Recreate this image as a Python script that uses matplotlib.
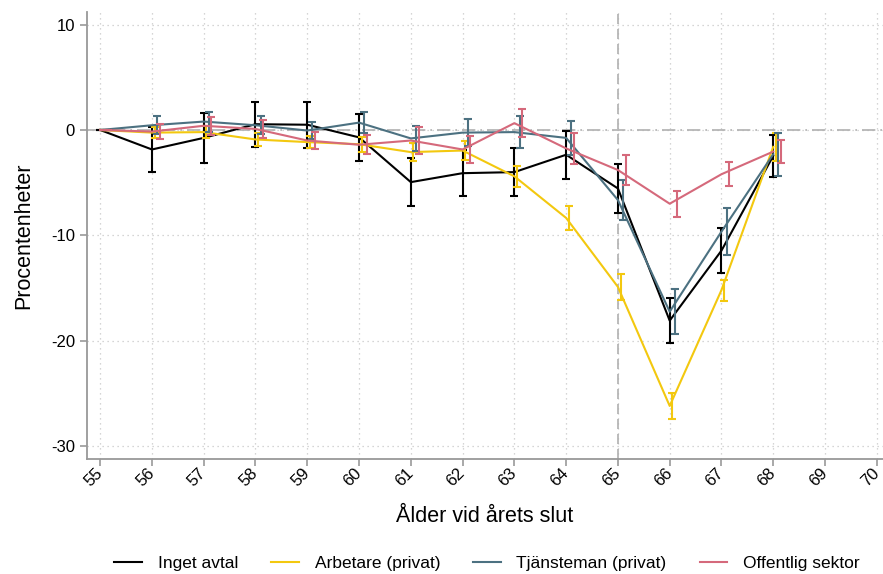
import numpy as np
from matplotlib import pyplot as plt

plt.rcParams['font.family'] = ['Liberation Sans', 'DejaVu Sans']
plt.rcParams['axes.unicode_minus'] = False

# age at end of year
ages = np.arange(55, 69)

# estimates (percentage points) and half-width of the confidence interval
inget = [0, -1.85, -0.75, 0.55, 0.5, -0.7, -4.95, -4.1, -4.0, -2.35, -5.55, -18.1, -11.45, -2.45]
inget_ci = [0, 2.1, 2.4, 2.15, 2.2, 2.2, 2.25, 2.2, 2.3, 2.3, 2.3, 2.15, 2.15, 2.0]

arbetare = [0, -0.25, -0.2, -0.9, -1.15, -1.35, -2.1, -1.95, -4.4, -8.35, -14.9, -26.2, -15.2, -1.6]
arbetare_ci = [0, 0.55, 0.6, 0.6, 0.6, 0.7, 0.85, 0.9, 1.0, 1.1, 1.25, 1.2, 1.0, 1.3]

tjansteman = [0, 0.45, 0.8, 0.45, -0.05, 0.7, -0.8, -0.25, -0.2, -0.75, -6.65, -17.25, -9.65, -2.3]
tjansteman_ci = [0, 0.85, 0.95, 0.85, 0.8, 1.0, 1.2, 1.25, 1.5, 1.65, 1.9, 2.15, 2.25, 2.05]

offentlig = [0, -0.15, 0.4, 0.1, -1.0, -1.4, -1.0, -1.85, 0.65, -1.75, -3.8, -7.0, -4.2, -2.05]
offentlig_ci = [0, 0.75, 0.85, 0.85, 0.85, 0.9, 1.25, 1.25, 1.35, 1.5, 1.4, 1.25, 1.15, 1.1]

labels = ['Inget avtal', 'Arbetare (privat)', 'Tjänsteman (privat)', 'Offentlig sektor']
colors = ['#000000', '#f3c80f', '#4c7181', '#d5697b']
shifts = [0.0, 0.05, 0.1, 0.15]

fig = plt.figure(figsize=(8.83, 5.74), dpi=100)
ax = fig.add_axes([0.0982, 0.2003, 0.9018, 0.7793])

ax.set_xlim(54.74, 70.12)
ax.set_ylim(-31.24, 11.23)

ax.grid(True, linestyle=(0, (1, 3)), color='#c8c8c8', linewidth=0.9)
ax.set_axisbelow(True)
ax.axhline(0, color='#b0b0b0', linestyle=(0, (8, 3, 1, 3)), linewidth=1.2, zorder=1)
ax.axvline(65, color='#b0b0b0', linestyle=(0, (6, 3)), linewidth=1.2, zorder=1)

series = [(inget, inget_ci), (arbetare, arbetare_ci), (tjansteman, tjansteman_ci), (offentlig, offentlig_ci)]
for (vals, ci), lab, col, sh in zip(series, labels, colors, shifts):
    ax.plot(ages, vals, color=col, linewidth=1.5, label=lab, zorder=3)
    ax.errorbar(ages + sh, vals, yerr=ci, fmt='none', ecolor=col, elinewidth=1.5,
                capsize=3, capthick=1.5, zorder=3)

ax.set_xticks(np.arange(55, 71))
ax.set_yticks([-30, -20, -10, 0, 10])
for lbl in ax.get_xticklabels():
    lbl.set_rotation(45)
    lbl.set_ha('right')
    lbl.set_va('center')
    lbl.set_rotation_mode('anchor')
ax.tick_params(axis='both', colors='#999999', labelcolor='black', labelsize=12,
               length=5, width=1.2)

for s in ['top', 'right']:
    ax.spines[s].set_visible(False)
for s in ['left', 'bottom']:
    ax.spines[s].set_color('#999999')
    ax.spines[s].set_linewidth(1.3)

ax.set_ylabel('Procentenheter', fontsize=15.5, labelpad=12)
ax.set_xlabel('Ålder vid årets slut', fontsize=15.5, labelpad=12)

handles, labs = ax.get_legend_handles_labels()
fig.legend(handles, labs, loc='center', bbox_to_anchor=(487 / 883, 1 - 563 / 574),
           ncol=4, frameon=False, fontsize=12.5, handlelength=1.6,
           handletextpad=0.9, columnspacing=1.9)

plt.savefig('out.png', dpi=100)
